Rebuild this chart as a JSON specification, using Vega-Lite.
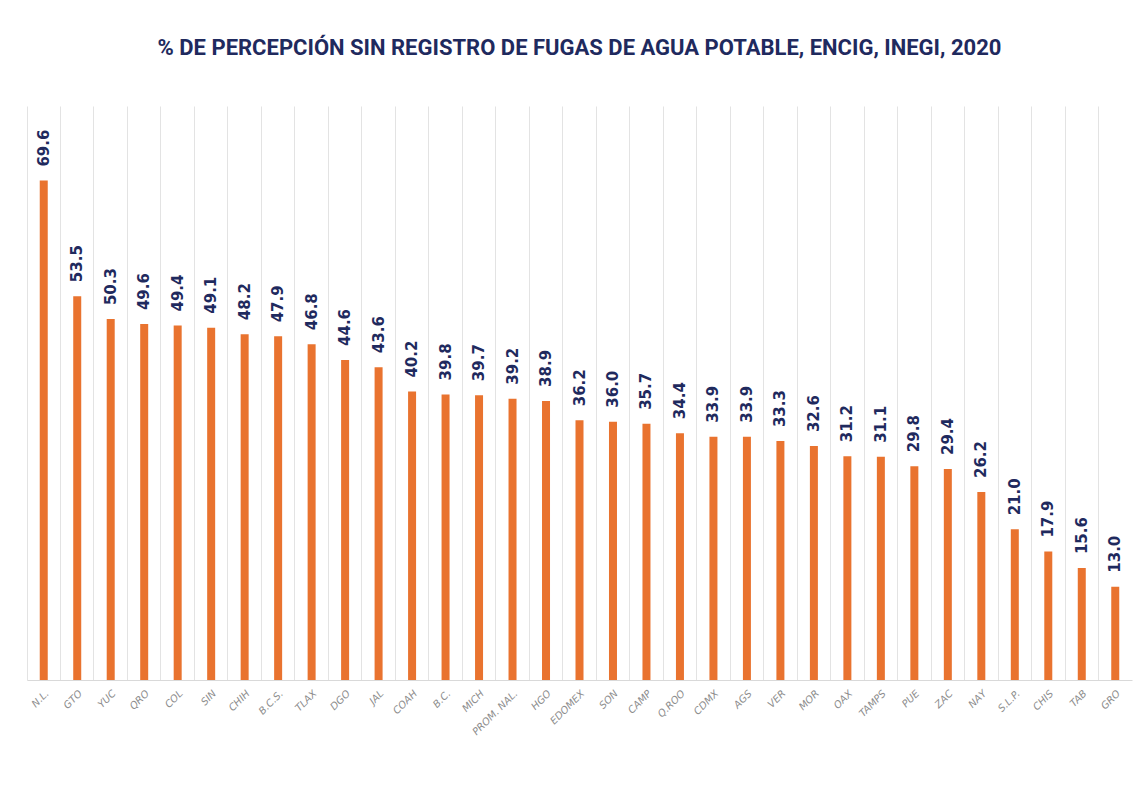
{
  "$schema": "https://vega.github.io/schema/vega-lite/v6.json",
  "autosize": "none",
  "width": 1105,
  "height": 574,
  "padding": {"left": 27, "top": 106, "right": 6, "bottom": 124},
  "background": "white",
  "title": {
    "text": "% DE PERCEPCIÓN SIN REGISTRO DE FUGAS DE AGUA POTABLE, ENCIG, INEGI, 2020",
    "font": "Roboto",
    "fontSize": 22,
    "fontWeight": "bold",
    "color": "#1f2a5e",
    "anchor": "middle",
    "offset": 46
  },
  "config": {
    "view": {"stroke": null}
  },
  "data": {
    "values": [
      {"estado": "N.L.", "valor": 69.6},
      {"estado": "GTO", "valor": 53.5},
      {"estado": "YUC", "valor": 50.3},
      {"estado": "QRO", "valor": 49.6},
      {"estado": "COL", "valor": 49.4},
      {"estado": "SIN", "valor": 49.1},
      {"estado": "CHIH", "valor": 48.2},
      {"estado": "B.C.S.", "valor": 47.9},
      {"estado": "TLAX", "valor": 46.8},
      {"estado": "DGO", "valor": 44.6},
      {"estado": "JAL", "valor": 43.6},
      {"estado": "COAH", "valor": 40.2},
      {"estado": "B.C.", "valor": 39.8},
      {"estado": "MICH", "valor": 39.7},
      {"estado": "PROM. NAL.", "valor": 39.2},
      {"estado": "HGO", "valor": 38.9},
      {"estado": "EDOMEX", "valor": 36.2},
      {"estado": "SON", "valor": 36.0},
      {"estado": "CAMP", "valor": 35.7},
      {"estado": "Q.ROO", "valor": 34.4},
      {"estado": "CDMX", "valor": 33.9},
      {"estado": "AGS", "valor": 33.9},
      {"estado": "VER", "valor": 33.3},
      {"estado": "MOR", "valor": 32.6},
      {"estado": "OAX", "valor": 31.2},
      {"estado": "TAMPS", "valor": 31.1},
      {"estado": "PUE", "valor": 29.8},
      {"estado": "ZAC", "valor": 29.4},
      {"estado": "NAY", "valor": 26.2},
      {"estado": "S.L.P.", "valor": 21.0},
      {"estado": "CHIS", "valor": 17.9},
      {"estado": "TAB", "valor": 15.6},
      {"estado": "GRO", "valor": 13.0}
    ]
  },
  "encoding": {
    "x": {
      "field": "estado",
      "type": "nominal",
      "sort": null,
      "scale": {"paddingInner": 0, "paddingOuter": 0},
      "axis": {
        "title": null,
        "labelAngle": -45,
        "labelFont": "DejaVu Sans",
        "labelFontSize": 10,
        "labelFontStyle": "italic",
        "labelColor": "#8c8c8c",
        "labelPadding": 8,
        "ticks": false,
        "domainColor": "#d9d9d9",
        "grid": true,
        "gridColor": "#e3e3e3",
        "bandPosition": 0
      }
    },
    "y": {
      "field": "valor",
      "type": "quantitative",
      "scale": {"domain": [0, 80]},
      "axis": null
    }
  },
  "layer": [
    {
      "mark": {"type": "bar", "width": 8, "color": "#e9732f"}
    },
    {
      "mark": {
        "type": "text",
        "angle": -90,
        "align": "left",
        "baseline": "middle",
        "dx": 14,
        "font": "DejaVu Sans",
        "fontSize": 15,
        "fontWeight": "bold",
        "color": "#1f2a5e"
      },
      "encoding": {
        "text": {"field": "valor", "type": "quantitative", "format": ".1f"}
      }
    }
  ]
}
